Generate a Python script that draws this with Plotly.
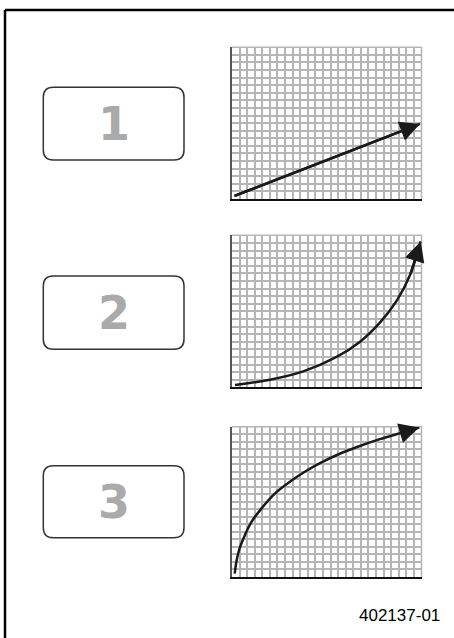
import plotly.graph_objects as go

W, H = 454, 638

# ----- data (grid units: 25 x 20 cells) -----
panel_labels = ["1", "2", "3"]

linear_x = [0.3, 24.8]
linear_y = [0.4, 9.9]

growth_x = [0.4, 5.0, 9.4, 13.8, 16.9, 19.6, 21.8, 23.5, 24.9]
growth_y = [0.3, 1.0, 2.1, 4.0, 6.0, 8.6, 11.5, 14.8, 19.2]

saturation_x = [0.36, 0.57, 1.0, 1.67, 2.55, 3.87, 5.65, 7.4, 9.6, 11.8,
                14.0, 16.5, 19.5, 22.2, 24.7]
saturation_y = [0.45, 2.0, 3.8, 5.5, 7.3, 9.1, 11.1, 12.5, 14.0, 15.25,
                16.3, 17.3, 18.35, 19.15, 19.9]

figure_id = "402137-01"

GRID_X = 25
GRID_Y = 20
LINE_COLOR = "#1a1a1a"
GRID_COLOR = "#b5b5b5"


def px_x(p):
    return p / W


def px_y(p):
    return 1 - p / H


def rounded_box(x0, y0, x1, y1, r):
    pts = [
        ("M", x0 + r, y0), ("L", x1 - r, y0), ("Q", x1, y0, x1, y0 + r),
        ("L", x1, y1 - r), ("Q", x1, y1, x1 - r, y1),
        ("L", x0 + r, y1), ("Q", x0, y1, x0, y1 - r),
        ("L", x0, y0 + r), ("Q", x0, y0, x0 + r, y0),
    ]
    path = ""
    for p in pts:
        cmd, vals = p[0], p[1:]
        coords = []
        for i in range(0, len(vals), 2):
            coords.append(f"{px_x(vals[i]):.5f},{px_y(vals[i + 1]):.5f}")
        path += cmd + " ".join(coords) + " "
    return path + "Z"


series = [
    (linear_x, linear_y),
    (growth_x, growth_y),
    (saturation_x, saturation_y),
]

# panel placement in pixels: (top, bottom) of each grid, and label box
grid_left, grid_right = 232, 421.5
grid_rows = [(47.3, 199), (235.3, 387.3), (426.7, 577)]
boxes = [(87.3, 160), (276, 349.3), (465.7, 537.7)]

fig = go.Figure()
shapes = []
annotations = []

for i, ((xs, ys), (top, bottom), (btop, bbottom)) in enumerate(
    zip(series, grid_rows, boxes)
):
    n = "" if i == 0 else str(i + 1)
    xa, ya = "x" + n, "y" + n

    fig.add_trace(
        go.Scatter(
            x=xs,
            y=ys,
            mode="lines",
            line=dict(color=LINE_COLOR, width=2.5, shape="spline",
                      smoothing=1),
            xaxis=xa,
            yaxis=ya,
            showlegend=False,
            hoverinfo="skip",
        )
    )
    # arrow head on the last segment
    annotations.append(
        dict(
            x=xs[-1], y=ys[-1], xref=xa, yref=ya,
            ax=xs[-2], ay=ys[-2], axref=xa, ayref=ya,
            showarrow=True, arrowhead=2, arrowsize=1.6, arrowwidth=2.5,
            arrowcolor=LINE_COLOR, standoff=0, text="",
        )
    )

    axis_common = dict(
        showgrid=True,
        gridcolor=GRID_COLOR,
        gridwidth=1.5,
        zeroline=False,
        showticklabels=False,
        ticks="",
        dtick=1,
        tick0=0,
        fixedrange=True,
    )
    fig.layout["xaxis" + n] = dict(
        axis_common,
        domain=[px_x(grid_left), px_x(grid_right)],
        range=[0, GRID_X],
        anchor=ya,
        showline=True,
        linecolor="#111111",
        linewidth=2,
    )
    fig.layout["yaxis" + n] = dict(
        axis_common,
        domain=[px_y(bottom), px_y(top)],
        range=[0, GRID_Y],
        anchor=xa,
        showline=True,
        linecolor="#555555",
        linewidth=2,
    )

    # light outer edge of the grid (top and right)
    shapes.append(
        dict(
            type="path",
            xref=xa + " domain",
            yref=ya + " domain",
            path="M0,1 L1,1 L1,0",
            line=dict(color=GRID_COLOR, width=1.5),
            layer="below",
        )
    )

    shapes.append(
        dict(
            type="path",
            xref="paper",
            yref="paper",
            path=rounded_box(43.3, btop, 184, bbottom, 10),
            line=dict(color="#333333", width=1.5),
            fillcolor="white",
        )
    )
    annotations.append(
        dict(
            x=px_x(113.7),
            y=px_y((btop + bbottom) / 2),
            xref="paper",
            yref="paper",
            text=panel_labels[i],
            showarrow=False,
            font=dict(family="DejaVu Sans", size=46, color="#aaaaaa",
                      weight="bold"),
            xanchor="center",
            yanchor="middle",
        )
    )

# outer frame: top and left rule
shapes.append(dict(type="line", xref="paper", yref="paper",
                   x0=px_x(5), x1=1, y0=px_y(10), y1=px_y(10),
                   line=dict(color="black", width=2.5)))
shapes.append(dict(type="line", xref="paper", yref="paper",
                   x0=px_x(5), x1=px_x(5), y0=px_y(10), y1=0,
                   line=dict(color="black", width=2.5)))

annotations.append(
    dict(
        x=px_x(442),
        y=px_y(627),
        xref="paper",
        yref="paper",
        text=figure_id,
        showarrow=False,
        font=dict(family="Liberation Sans, Arial", size=17, color="black"),
        xanchor="right",
        yanchor="bottom",
    )
)

fig.update_layout(
    width=W,
    height=H,
    margin=dict(l=0, r=0, t=0, b=0),
    paper_bgcolor="white",
    plot_bgcolor="white",
    shapes=shapes,
    annotations=annotations,
    showlegend=False,
)

fig.write_html(
    "out.html",
    config={"displayModeBar": False},
    post_script="document.body.style.margin='0';document.body.style.overflow='hidden';",
)
